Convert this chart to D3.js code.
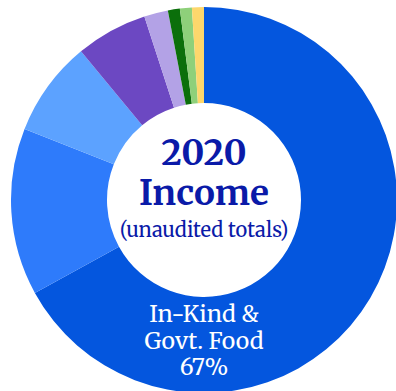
<!DOCTYPE html>
<html><head><meta charset="utf-8">
<script src="https://cdn.jsdelivr.net/npm/d3@7"></script>
<style>html,body{margin:0;padding:0;background:#fff;overflow:hidden}</style>
</head><body><svg id="c" width="396" height="391"></svg>
<script>
const categories = ["In-Kind & Govt. Food", "Source 2", "Source 3", "Source 4", "Source 5", "Source 6", "Source 7", "Source 8"];
const values = [67, 14, 8, 6, 2, 1, 1, 1];
const colors = ["#0456DE", "#2E7BFB", "#5CA2FF", "#6C48C2", "#B3A2E6", "#0B6F0B", "#8ED07A", "#FDD76C"];
const titleLines = ["2020", "Income"];
const subtitle = "(unaudited totals)";
const sliceLabel = ["In-Kind &", "Govt. Food", "67%"];

const svg = d3.select("#c");
const cx = 204, cy = 200, rOut = 193, rIn = 97;
const g = svg.append("g").attr("transform", `translate(${cx},${cy})`);
const pie = d3.pie().sort(null).value(d => d)(values);
const arc = d3.arc().innerRadius(rIn).outerRadius(rOut);
g.selectAll("path").data(pie).enter().append("path")
  .attr("d", arc).attr("fill", (d, i) => colors[i]);

const serif = "Merriweather, 'DejaVu Serif', serif";
const tc = "#0A1AA8";
g.append("text").attr("x", 0).attr("y", -35).attr("text-anchor", "middle")
  .attr("font-family", serif).attr("font-weight", "bold").attr("font-size", 35)
  .attr("fill", tc).text(titleLines[0]);
g.append("text").attr("x", 0).attr("y", 5).attr("text-anchor", "middle")
  .attr("font-family", serif).attr("font-weight", "bold").attr("font-size", 35)
  .attr("fill", tc).text(titleLines[1]);
g.append("text").attr("x", 0).attr("y", 37).attr("text-anchor", "middle")
  .attr("font-family", serif).attr("font-size", 20)
  .attr("fill", tc).text(subtitle);

const ys = [122, 149, 175];
sliceLabel.forEach((t, i) => {
  g.append("text").attr("x", 0).attr("y", ys[i]).attr("text-anchor", "middle")
    .attr("font-family", serif).attr("font-size", 23)
    .attr("fill", "#fff").text(t);
});
</script></body></html>
